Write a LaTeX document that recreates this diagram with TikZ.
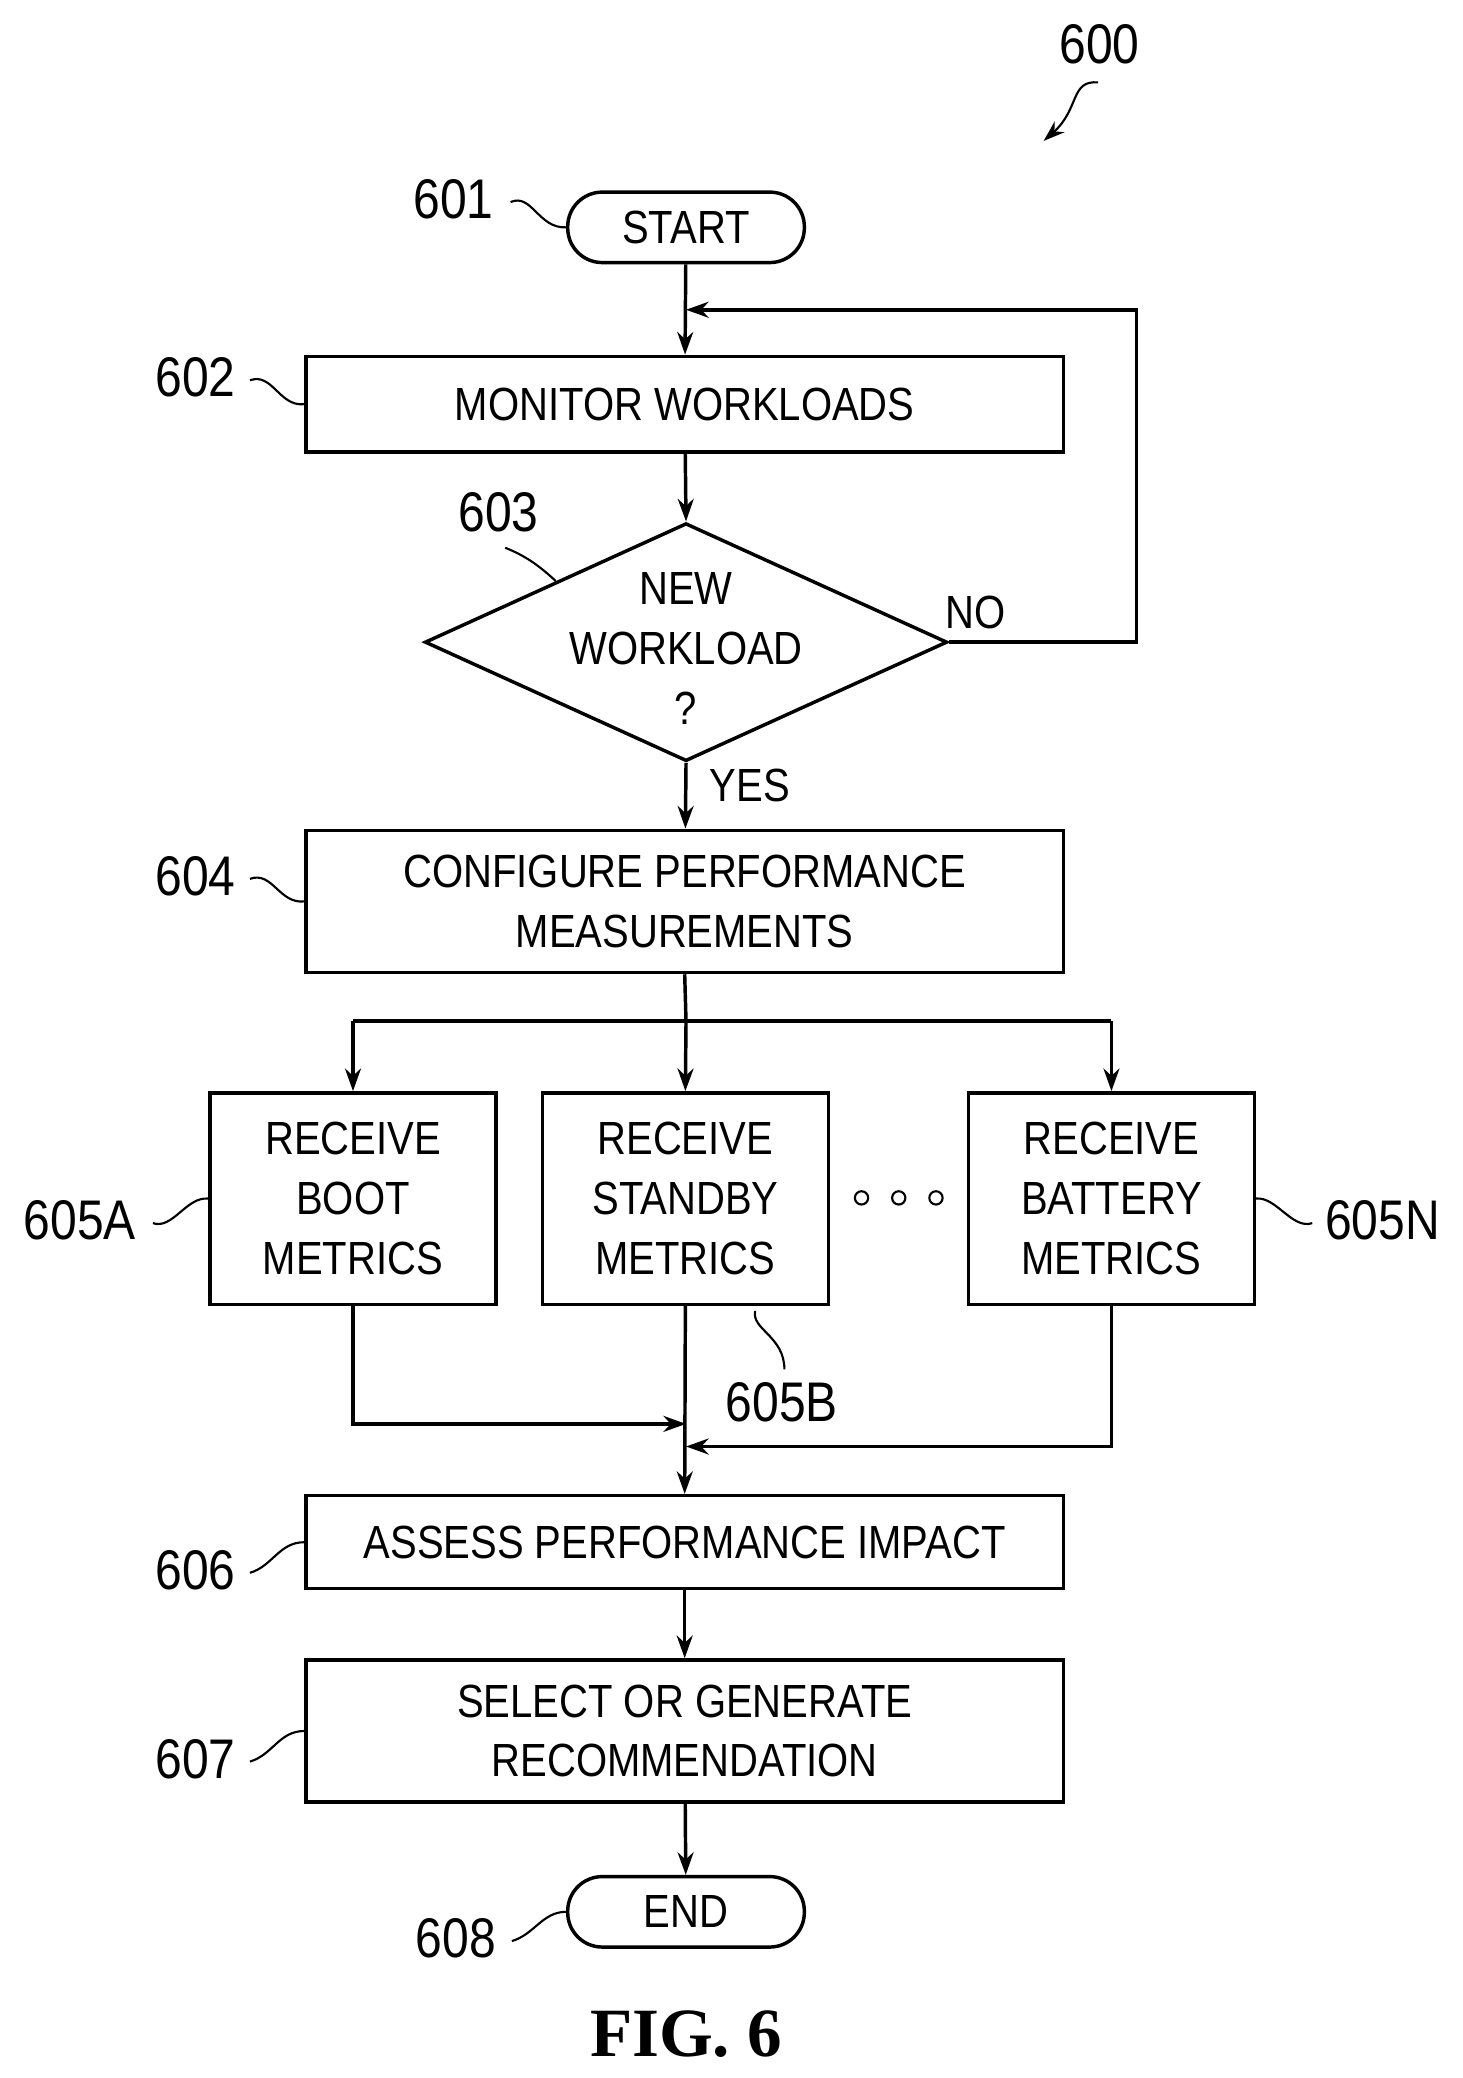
\documentclass[tikz,border=0pt]{standalone}
\usepackage{fontspec}
\setmainfont{Liberation Sans}[FakeStretch=0.86]
\newfontfamily\figfont{Liberation Serif}
\usetikzlibrary{arrows.meta,shapes.geometric}
\begin{document}
\begin{tikzpicture}[x=1pt,y=-1pt,
  line width=2.6pt,
  arr/.style={-{Stealth[length=17pt,width=12pt]}},
  box/.style={draw,rectangle,minimum width=570pt,align=center,font=\fontsize{35}{45}\selectfont,inner sep=0pt},
  sbox/.style={draw,rectangle,minimum width=215pt,minimum height=159pt,align=center,font=\fontsize{35}{45}\selectfont,inner sep=0pt},
  term/.style={draw,rounded corners=26pt,minimum width=178pt,minimum height=53pt,font=\fontsize{35}{45}\selectfont,inner sep=0pt},
  lab/.style={font=\fontsize{42}{48}\selectfont,inner sep=0pt},
  lead/.style={line width=1.6pt}]
\useasboundingbox (0,0) rectangle (1100,1563);
\node[term] (start) at (516,171) {START};
\node[box,minimum height=72pt] (b602) at (515,304) {MONITOR WORKLOADS};
\node[draw,diamond,aspect=2.2,minimum width=393pt,minimum height=179pt,inner sep=0pt] (d603) at (516,483) {};
\node[font=\fontsize{35}{45}\selectfont,align=center] at (516,488) {NEW\\WORKLOAD\\?};
\node[box,minimum height=107pt] (b604) at (515,678) {CONFIGURE PERFORMANCE\\MEASUREMENTS};
\node[sbox] (a) at (265.5,901.5) {RECEIVE\\BOOT\\METRICS};
\node[sbox] (b) at (515.5,901.5) {RECEIVE\\STANDBY\\METRICS};
\node[sbox] (n) at (836,901.5) {RECEIVE\\BATTERY\\METRICS};
\node[box,minimum height=70pt] (b606) at (515,1160) {ASSESS PERFORMANCE IMPACT};
\node[box,minimum height=107pt] (b607) at (515,1302) {SELECT OR GENERATE\\RECOMMENDATION};
\node[term] (end) at (516,1438) {END};
\foreach \x in {648,676,704} \draw[line width=1.6pt] (\x,901) circle (5pt);
% connectors
\draw[arr] (start) -- (b602);
\coordinate (loopin) at (516,233);
\draw[arr] (d603.east) -- (855,483) -- (855,233) -- (loopin);
\draw[arr] (b602) -- (d603.north);
\draw[arr] (d603.south) -- (b604);
\node[font=\fontsize{35}{45}\selectfont] at (734,461) {NO};
\node[font=\fontsize{35}{45}\selectfont] at (564,591) {YES};
\coordinate (br) at (516,768);
\draw (b604.south) -- (br);
\draw (265.5,768) -- (836,768);
\draw[arr] (265.5,768) -- (a.north);
\draw[arr] (br) -- (b.north);
\draw[arr] (836,768) -- (n.north);
\coordinate (ma) at (516,1071);
\coordinate (mn) at (516,1088);
\draw[arr] (a.south) |- (ma);
\draw[arr] (n.south) |- (mn);
\draw[arr] (b.south) -- (b606.north);
\draw[arr] (b606) -- (b607);
\draw[arr] (b607) -- (end);
% labels
\node[lab] at (827,33) {600};
\draw[lead,-{Stealth[length=16pt,width=11pt]}] (826,62) .. controls (805,60) and (812,82) .. (785,106);
\node[lab] (l601) at (341,150) {601};
\draw[lead] (384,152) .. controls (400,145) and (405,172) .. (start.west);
\node[lab] at (147,284) {602};
\draw[lead] (188,286) .. controls (205,280) and (210,306) .. (b602.west);
\node[lab] at (375,385) {603};
\draw[lead] (380,412) .. controls (395,418) and (405,425) .. (418,437);
\node[lab] at (147,659) {604};
\draw[lead] (188,661) .. controls (205,655) and (210,680) .. (b604.west);
\node[lab] at (60,918) {605A};
\draw[lead] (115,920) .. controls (130,925) and (140,900) .. (a.west);
\node[lab] at (1040,918) {605N};
\draw[lead] (987,920) .. controls (972,925) and (960,900) .. (n.east);
\node[lab] at (588,1055) {605B};
\draw[lead] (590,1030) .. controls (590,1005) and (565,1000) .. (568,986);
\node[lab] at (147,1181) {606};
\draw[lead] (188,1183) .. controls (205,1178) and (210,1160) .. (b606.west);
\node[lab] at (147,1323) {607};
\draw[lead] (188,1325) .. controls (205,1320) and (210,1302) .. (b607.west);
\node[lab] at (343,1458) {608};
\draw[lead] (385,1460) .. controls (402,1455) and (408,1438) .. (end.west);
\node[font=\figfont\bfseries\fontsize{52}{60}\selectfont] at (516,1530) {FIG. 6};
\end{tikzpicture}
\end{document}
